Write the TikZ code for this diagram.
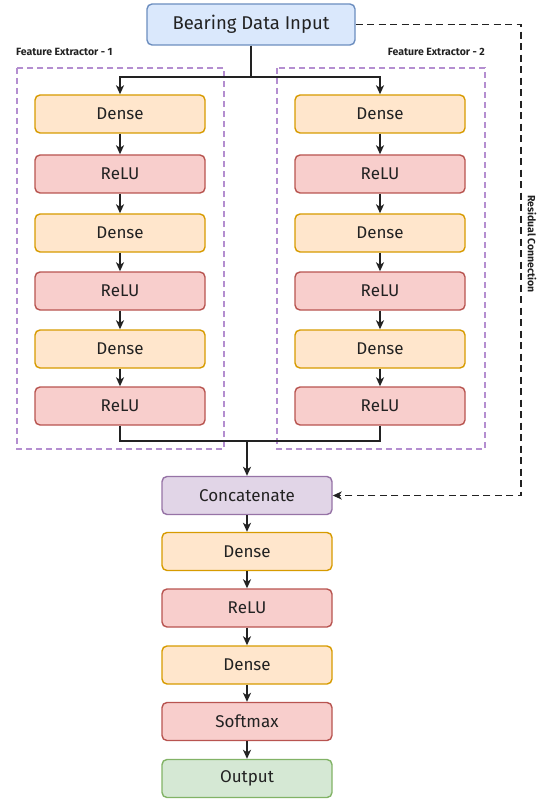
\documentclass[tikz,border=0pt]{standalone}
\usepackage{fontspec}
\setmainfont{Fira Sans}
\usetikzlibrary{arrows.meta}
\definecolor{inF}{HTML}{DAE8FC}\definecolor{inD}{HTML}{6C8EBF}
\definecolor{deF}{HTML}{FFE6CC}\definecolor{deD}{HTML}{D79B00}
\definecolor{reF}{HTML}{F8CECC}\definecolor{reD}{HTML}{B85450}
\definecolor{caF}{HTML}{E1D5E7}\definecolor{caD}{HTML}{9673A6}
\definecolor{ouF}{HTML}{D5E8D4}\definecolor{ouD}{HTML}{82B366}
\definecolor{grp}{HTML}{B48ED0}
\definecolor{txt}{HTML}{222222}
\begin{document}
\begin{tikzpicture}[x=1pt,y=-1pt,
  blk/.style={rounded corners=5pt,line width=1.4pt,minimum width=170pt,minimum height=38pt,inner sep=0pt,font=\fontsize{17}{19}\selectfont,text=txt},
  densebox/.style={blk,fill=deF,draw=deD},
  relubox/.style={blk,fill=reF,draw=reD},
  arr/.style={line width=1.5pt,draw=txt,-{Stealth[length=9pt,width=8pt,inset=2.5pt]}},
  ln/.style={line width=1.5pt,draw=txt},
  grpbox/.style={draw=grp,line width=1.4pt,dash pattern=on 6pt off 4pt},
  grplabel/.style={font=\fontsize{10.5}{12}\selectfont\bfseries,text=txt,inner sep=0pt}]
\useasboundingbox (0,0) rectangle (546,802);
% group boxes
\draw[grpbox] (17,68) rectangle (224,449);
\draw[grpbox] (277,68) rectangle (485,449);
\node[grplabel,anchor=west] (g1) at (16,52) {Feature Extractor - 1};
\node[grplabel,anchor=east] (g2) at (485,52) {Feature Extractor - 2};
% input
\node[blk,fill=inF,draw=inD,minimum width=208pt,minimum height=41pt,font=\fontsize{18.5}{20}\selectfont] (in) at (251,24.5) {Bearing Data Input};
% left column
\node[densebox] (l1) at (120,114) {Dense};
\node[relubox]  (l2) at (120,174) {ReLU};
\node[densebox] (l3) at (120,233) {Dense};
\node[relubox]  (l4) at (120,291) {ReLU};
\node[densebox] (l5) at (120,349) {Dense};
\node[relubox]  (l6) at (120,406) {ReLU};
% right column
\node[densebox] (r1) at (380,114) {Dense};
\node[relubox]  (r2) at (380,174) {ReLU};
\node[densebox] (r3) at (380,233) {Dense};
\node[relubox]  (r4) at (380,291) {ReLU};
\node[densebox] (r5) at (380,349) {Dense};
\node[relubox]  (r6) at (380,406) {ReLU};
% bottom stack
\node[blk,fill=caF,draw=caD] (cat) at (247,495.5) {Concatenate};
\node[densebox] (b1) at (247,551.5) {Dense};
\node[relubox]  (b2) at (247,608) {ReLU};
\node[densebox] (b3) at (247,665) {Dense};
\node[relubox]  (b4) at (247,721.5) {Softmax};
\node[blk,fill=ouF,draw=ouD] (out) at (247,778.5) {Output};
% split
\coordinate (s) at (in.south |- 0,77);
\draw[ln] (in.south) -- (s);
\draw[arr] (s) -| (l1.north);
\draw[arr] (s) -| (r1.north);
% chains
\foreach \a/\b in {l1/l2,l2/l3,l3/l4,l4/l5,l5/l6,r1/r2,r2/r3,r3/r4,r4/r5,r5/r6,cat/b1,b1/b2,b2/b3,b3/b4,b4/out}
  \draw[arr] (\a) -- (\b);
% merge
\coordinate (m) at (cat.north |- 0,441);
\draw[ln] (l6.south) |- (m);
\draw[ln] (r6.south) |- (m);
\draw[arr] (m) -- (cat.north);
% residual
\coordinate (c1) at (521,24.5);
\coordinate (c2) at (521,495.5);
\draw[arr,dash pattern=on 7pt off 4.5pt] (in.east) -- (c1) -- (c2) -- (cat.east);
\node[grplabel,rotate=-90] (rl) at (532,244) {Residual Connection};
\end{tikzpicture}
\end{document}
